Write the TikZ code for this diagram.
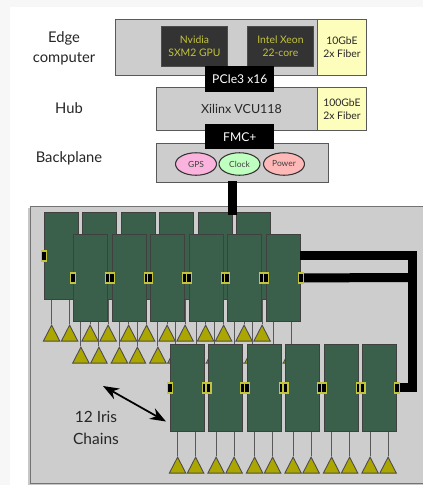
\documentclass[tikz,border=0pt]{standalone}
\usepackage{fontspec}
\setmainfont{Lato}
\usetikzlibrary{arrows.meta,calc,positioning,shapes.geometric}
\definecolor{boardgray}{HTML}{CDCDCD}
\definecolor{cardgreen}{HTML}{3A5F4A}
\definecolor{antyellow}{HTML}{ABA600}
\definecolor{fiberyellow}{HTML}{FEFEBC}
\definecolor{chipdark}{HTML}{333333}
\definecolor{chiptext}{HTML}{C4C43C}
\definecolor{pagegray}{HTML}{F7F7F7}
\tikzset{
  block/.style={draw=black!65, fill=boardgray, line width=0.5pt, anchor=north west, inner sep=0pt, align=center, text=black!85},
  fiber/.style={block, fill=fiberyellow, minimum width=0.98cm, font=\fontsize{5.9}{7.6}\selectfont},
  chip/.style={block, draw=black!70, fill=chipdark, text=chiptext, minimum width=1.32cm, minimum height=0.8cm, font=\fontsize{5.9}{7.6}\selectfont},
  link/.style={anchor=north west, fill=black, text=white, inner sep=0pt, minimum width=1.38cm, font=\fontsize{6.9}{8}\selectfont},
  service/.style={ellipse, draw=black!80, line width=0.6pt, inner sep=0pt, minimum width=0.82cm, minimum height=0.45cm, text=black!75, font=\fontsize{4.8}{5}\selectfont},
  rowlabel/.style={align=center, text=black!85, font=\fontsize{8.4}{11.3}\selectfont},
  card/.style={draw=black!75, fill=cardgreen, line width=0.5pt, anchor=north west, inner sep=0pt, minimum width=0.68cm, minimum height=1.74cm},
  ant/.style={isosceles triangle, isosceles triangle stretches, shape border rotate=90, draw=black!70, fill=antyellow, line width=0.5pt, inner sep=0pt, minimum width=0.33cm, minimum height=0.32cm, anchor=apex},
  leg/.style={draw=black!65, line width=0.6pt},
  port/.style={draw=chiptext, fill=black, line width=0.7pt, inner sep=0pt, minimum width=0.1cm, minimum height=0.2cm},
  bus/.style={line width=0.18cm, black, line join=miter}
}
\begin{document}
\begin{tikzpicture}[x=0.02cm, y=-0.02cm]
  \useasboundingbox (0,0) rectangle (423,485);
  \fill[pagegray] (0,0) rectangle (423,485);
  \fill[white] (10,7) rectangle (423,485);
  % upper stack
  \node[block, minimum width=5.02cm, minimum height=1.12cm] (edge) at (115,19) {};
  \node[chip] (gpu) at (161,26) {Nvidia\\SXM2 GPU};
  \node[chip] (xeon) at (247,26) {Intel Xeon\\22-core};
  \node[fiber, minimum height=1.12cm] (fiberedge) at (317,19) {10GbE\\2x Fiber};
  \node[block, minimum width=4.2cm, minimum height=0.86cm] (hub) at (156,87) {};
  \node[text=black!85, font=\fontsize{7.1}{9}\selectfont] (vcu) at (241.5,108.5) {Xilinx VCU118};
  \node[fiber, minimum height=0.86cm] (fiberhub) at (317,87) {100GbE\\2x Fiber};
  \node[block, minimum width=3.44cm, minimum height=0.78cm] (backplane) at (156,143) {};
  \node[link, minimum height=0.52cm] (pcie) at (205,66) {PCIe3 x16};
  \node[link, minimum height=0.5cm] (fmc) at (205,124) {FMC+};
  \node[service, fill=magenta!30] (gps) at (196,164) {GPS};
  \node[service, fill=green!25] (clock) at (239.5,164) {Clock};
  \node[service, fill=red!28] (power) at (284,164) {Power};
  \node[rowlabel] (edgelabel) at (64,48.5) {Edge\\computer};
  \node[rowlabel] (hublabel) at (69,108.5) {Hub};
  \node[rowlabel] (backlabel) at (69,158) {Backplane};
  % board
  \fill[black!22] (28,208) rectangle (424,485);
  \node[block, draw=black!55, line width=0.8pt, minimum width=7.96cm, minimum height=5.54cm] (board) at (30,206) {};
  \coordinate (tapin) at (232.5,181);
  \coordinate (tapout) at (232.5,215);
  % back row
  \foreach \i in {1,...,6} {
    \pgfmathsetmacro{\cx}{44+38.5*(\i-1)}
    \node[ant] (anta\i) at (\cx+7.6,324) {};
    \node[ant] (antb\i) at (\cx+25.6,324) {};
    \node[card] (carda\i) at (\cx,212) {};
    \draw[leg] (carda\i.south -| anta\i.apex) -- (anta\i.apex);
    \draw[leg] (carda\i.south -| antb\i.apex) -- (antb\i.apex);
  }
  \node[port] (porta) at (carda1.west) {};
  \draw[bus] (tapin) -- (tapout);
  % middle row
  \foreach \i in {1,...,6} {
    \pgfmathsetmacro{\cx}{73.3+38.5*(\i-1)}
    \node[ant] (antc\i) at (\cx+7.6,346) {};
    \node[ant] (antd\i) at (\cx+25.6,346) {};
    \node[card] (cardb\i) at (\cx,234) {};
    \draw[leg] (cardb\i.south -| antc\i.apex) -- (antc\i.apex);
    \draw[leg] (cardb\i.south -| antd\i.apex) -- (antd\i.apex);
  }
  \coordinate (busa) at (300,255.5);
  \coordinate (cornera) at (412.5,255.5);
  \coordinate (cornerb) at (412.5,387.5);
  \coordinate (joint) at (412.5,277.5);
  \draw[bus] (busa) -- (cornera) -- (cornerb) -- (397,387.5);
  \foreach \i in {1,...,6} {
    \node[port] (portbl\i) at (cardb\i.west) {};
    \node[port] (portbr\i) at (cardb\i.east) {};
  }
  \draw[bus] (portbr6) -- (joint);
  \node[port] at (portbr6) {};
  % front row
  \foreach \i in {1,...,6} {
    \pgfmathsetmacro{\cx}{170+38.5*(\i-1)}
    \node[ant] (ante\i) at (\cx+7.6,456) {};
    \node[ant] (antf\i) at (\cx+25.6,456) {};
    \node[card] (cardc\i) at (\cx,344) {};
    \draw[leg] (cardc\i.south -| ante\i.apex) -- (ante\i.apex);
    \draw[leg] (cardc\i.south -| antf\i.apex) -- (antf\i.apex);
    \node[port] (portcl\i) at (cardc\i.west) {};
    \node[port] (portcr\i) at (cardc\i.east) {};
  }
  % label
  \node[rowlabel, font=\fontsize{8.8}{12.4}\selectfont] (chains) at (96,428) {12 Iris\\Chains};
  \coordinate (arrowa) at (103,386);
  \coordinate (arrowb) at (166,421.5);
  \draw[{Stealth[length=0.32cm,width=0.24cm]}-{Stealth[length=0.32cm,width=0.24cm]}, line width=1pt] (arrowa) -- (arrowb);
\end{tikzpicture}
\end{document}
